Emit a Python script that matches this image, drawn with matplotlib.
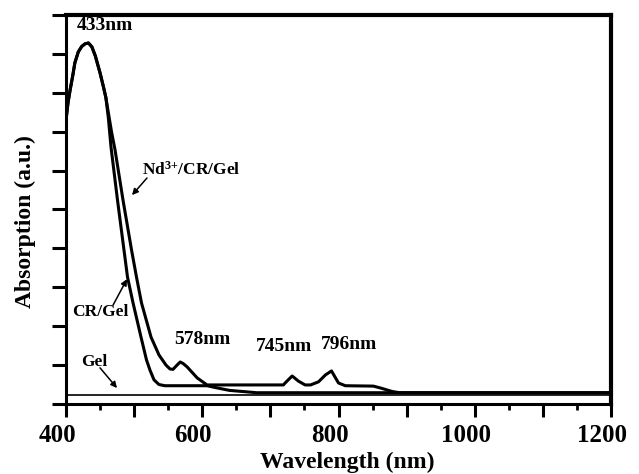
import matplotlib
matplotlib.use("Agg")
import matplotlib.pyplot as plt
from matplotlib.ticker import MultipleLocator, FuncFormatter, NullFormatter
from matplotlib.transforms import ScaledTranslation

plt.rcParams['font.family'] = ['Liberation Serif', 'DejaVu Serif']
plt.rcParams['font.weight'] = 'bold'
plt.rcParams['mathtext.fontset'] = 'custom'
plt.rcParams['mathtext.rm'] = 'Liberation Serif:bold'
plt.rcParams['mathtext.default'] = 'rm'

# Shared absorption band (both dyed gels) around 433 nm
common_wl = [400, 403, 406, 410, 413, 418, 423, 428, 433, 438, 443, 450, 455, 458.5]
common_ab = [7.30, 7.75, 8.07, 8.45, 8.77, 9.05, 9.19, 9.26, 9.28, 9.18, 8.95, 8.51, 8.15, 7.88]

cr_wl = [462.2, 466.1, 475.6, 485.1, 490.3, 498.4, 510.1, 518.2, 523.3, 529.2, 536.5, 545.3, 607, 620, 640, 680, 1200]
cr_ab = [7.35, 6.60, 5.24, 3.96, 3.26, 2.60, 1.72, 1.13, 0.87, 0.62, 0.50, 0.47, 0.47, 0.42, 0.35, 0.29, 0.29]

nd_wl = [462.8, 467, 472, 483.7, 496.2, 503.5, 510.8, 524.8, 536.5, 546.8, 552.7, 557, 563, 567.6, 572, 578, 592.6, 607,
         719, 725, 732, 741, 751, 759, 770.6, 781, 789.7, 800, 810, 851, 862, 879, 890, 1200]
nd_ab = [7.42, 6.98, 6.53, 5.24, 3.96, 3.26, 2.60, 1.72, 1.26, 1.00, 0.90, 0.89, 1.00, 1.08, 1.04, 0.95, 0.67, 0.49,
         0.49, 0.60, 0.72, 0.59, 0.49, 0.49, 0.57, 0.75, 0.85, 0.54, 0.47, 0.46, 0.41, 0.32, 0.29, 0.29]

gel_wl = [400, 1200]
gel_ab = [0.24, 0.24]

x_labels = [400, 600, 800, 1000, 1200]

fig = plt.figure(figsize=(6.39, 4.74), dpi=100)
ax = fig.add_axes([66/639, 70/474, 545/639, 389/474])

ax.plot(common_wl + cr_wl, common_ab + cr_ab, color='black', lw=2.2, solid_joinstyle='round')
ax.plot(common_wl + nd_wl, common_ab + nd_ab, color='black', lw=2.2, solid_joinstyle='round')
ax.plot(gel_wl, gel_ab, color='black', lw=1.2)

ax.set_xlim(400, 1200)
ax.set_ylim(0, 10)
ax.xaxis.set_major_locator(MultipleLocator(100))
ax.xaxis.set_major_formatter(FuncFormatter(
    lambda v, p: f"{int(round(v))}" if int(round(v)) in x_labels else ""))
ax.xaxis.set_minor_locator(MultipleLocator(50))
ax.yaxis.set_major_locator(MultipleLocator(1))
ax.yaxis.set_major_formatter(NullFormatter())

ax.tick_params(axis='x', which='major', direction='out', length=9.5, width=2.2, labelsize=18, pad=5)
ax.tick_params(axis='x', which='minor', direction='out', length=4.5, width=2.0)
ax.tick_params(axis='y', which='major', direction='out', length=10, width=2.2)
for lab in ax.get_xticklabels():
    lab.set_fontweight('bold')
    lab.set_transform(lab.get_transform() + ScaledTranslation(-9/100, 0, fig.dpi_scale_trans))

for side in ['left', 'bottom']:
    ax.spines[side].set_linewidth(2.2)
for side in ['top', 'right']:
    ax.spines[side].set_linewidth(3.0)

ax.set_xlabel('Wavelength (nm)', fontsize=17, fontweight='bold')
ax.set_ylabel('Absorption (a.u.)', fontsize=17, fontweight='bold')
ax.xaxis.set_label_coords(0.516, -0.122)
ax.yaxis.set_label_coords(-0.055, 0.468)

fs = 14
ax.text(457, 9.74, '433nm', fontsize=fs, fontweight='bold', ha='center', va='center')
ax.text(600, 1.65, '578nm', fontsize=fs, fontweight='bold', ha='center', va='center')
ax.text(720, 1.47, '745nm', fontsize=fs, fontweight='bold', ha='center', va='center')
ax.text(815, 1.52, '796nm', fontsize=fs, fontweight='bold', ha='center', va='center')

ap = dict(arrowstyle='-|>', color='black', lw=1.1, mutation_scale=9, shrinkA=0, shrinkB=0)
ax.text(583.5, 6.02, r'Nd$^{3{+}}$/CR/Gel', fontsize=12.5, fontweight='bold', ha='center', va='center')
ax.annotate('', xy=(496.9, 5.37), xytext=(518.9, 5.81), arrowprops=ap)
ax.text(449.9, 2.37, 'CR/Gel', fontsize=12.5, fontweight='bold', ha='center', va='center')
ax.annotate('', xy=(489.5, 3.21), xytext=(469, 2.54), arrowprops=ap)
ax.text(441.1, 1.08, 'Gel', fontsize=12.5, fontweight='bold', ha='center', va='center')
ax.annotate('', xy=(474.9, 0.41), xytext=(449.9, 0.93), arrowprops=ap)

fig.savefig('out.png', dpi=100)
